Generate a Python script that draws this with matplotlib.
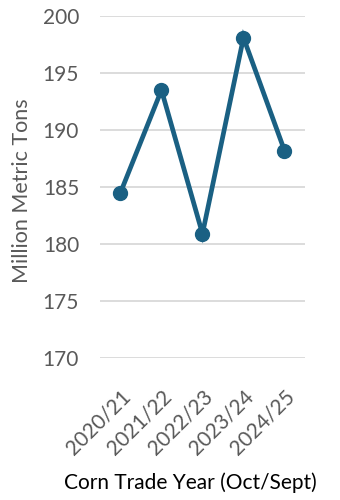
import matplotlib
matplotlib.use("Agg")
import matplotlib.pyplot as plt

years = ["2020/21", "2021/22", "2022/23", "2023/24", "2024/25"]
values = [184.5, 193.5, 180.9, 198.1, 188.2]
yticks = [170, 175, 180, 185, 190, 195, 200]

plt.rcParams['font.family'] = ['Lato', 'DejaVu Sans']

fig = plt.figure(figsize=(3.4, 5.0), dpi=100)
ax = fig.add_axes([0.294, 0.284, 0.603, 0.684])

x = list(range(len(years)))
ax.plot(x, values, color='#1A6083', lw=3.4, marker='o', markersize=10,
        solid_joinstyle='miter', zorder=3)

ax.set_xlim(-0.5, len(years) - 0.5)
ax.set_ylim(170, 200)
ax.set_yticks(yticks)
ax.set_yticklabels([str(v) for v in yticks], fontsize=15, color='#595959')
ax.yaxis.grid(True, color='#D9D9D9', lw=1.3)
ax.set_axisbelow(True)
ax.tick_params(axis='both', length=0)
ax.tick_params(axis='y', pad=15)
for s in ax.spines.values():
    s.set_visible(False)

ax.set_xticks(x)
ax.set_xticklabels(years, rotation=45, ha='right', va='top',
                   rotation_mode='anchor', fontsize=15, color='#595959')
ax.tick_params(axis='x', pad=20)

ax.set_ylabel("Million Metric Tons", fontsize=15.5, color='#595959')
ax.yaxis.set_label_coords(-0.33, 0.49)
fig.text(0.56, 0.034, "Corn Trade Year (Oct/Sept)", ha='center', va='center',
         fontsize=15, color='black')

fig.savefig("out.png", dpi=100)
